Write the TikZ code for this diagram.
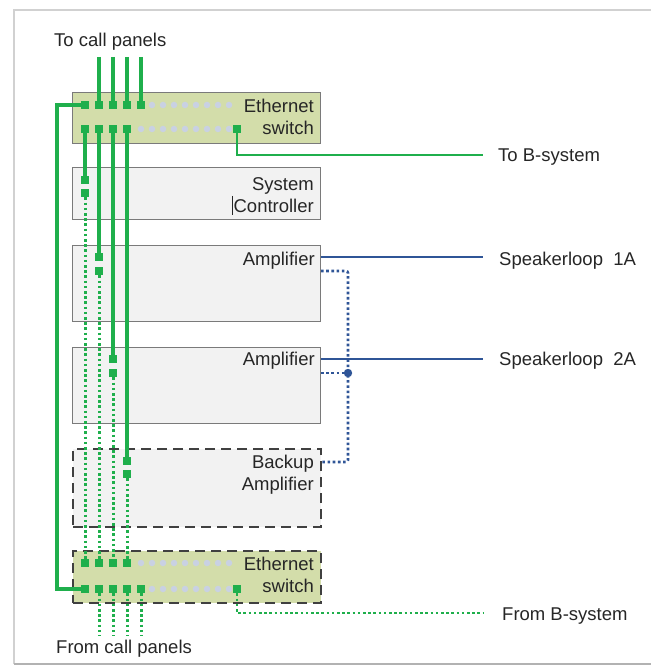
\documentclass[tikz,border=0pt]{standalone}
\usepackage{fontspec}
\setmainfont{Liberation Sans}
\definecolor{swfill}{HTML}{D3DDAA}
\definecolor{boxfill}{HTML}{F2F2F2}
\definecolor{boxline}{HTML}{7A7A7A}
\definecolor{pgreen}{HTML}{1FAF4C}
\definecolor{pblue}{HTML}{2F5597}
\definecolor{txt}{HTML}{262626}
\definecolor{gdot}{HTML}{C9D1E3}
\begin{document}
\begin{tikzpicture}[x=1pt,y=-1pt,
  box/.style={draw=boxline, line width=1.4pt, anchor=north west, inner sep=0pt, minimum width=248pt},
  dbox/.style={draw=black!75, line width=2pt, dash pattern=on 10pt off 6pt, anchor=north west, inner sep=0pt, minimum width=248pt},
  lbl/.style={font=\fontsize{18.5}{21}\selectfont, text=txt, inner sep=0pt, anchor=base east},
  olbl/.style={font=\fontsize{18.5}{21}\selectfont, text=txt, inner sep=0pt, anchor=base west},
  port/.style={fill=pgreen, minimum size=8.5pt, inner sep=0pt},
  gline/.style={draw=pgreen, line width=3.3pt},
  gdotl/.style={draw=pgreen, line width=3pt, dash pattern=on 2.6pt off 2.6pt},
  bline/.style={draw=pblue, line width=2.8pt},
  bdotl/.style={draw=pblue, line width=2.6pt, dash pattern=on 2.6pt off 2.6pt, rounded corners=2pt},
  gd/.style={fill=gdot, circle, minimum size=6.5pt, inner sep=0pt}]
\useasboundingbox (0,0) rectangle (651,668);
% outer frame
\draw[black!18, line width=2pt] (14,664) -- (14,10) -- (651,10);
\draw[black!30, line width=2.5pt] (14,664) -- (651,664);

% boxes
\node[box, fill=swfill, minimum height=51pt] (sw1) at (72,92) {};
\node[box, fill=boxfill, minimum height=52pt] (sc) at (72,167) {};
\node[box, fill=boxfill, minimum height=76pt] (amp1) at (72,245) {};
\node[box, fill=boxfill, minimum height=76pt] (amp2) at (72,347) {};
\node[dbox, fill=boxfill, minimum height=78pt] (bak) at (72,448) {};
\node[dbox, fill=swfill, minimum height=52pt] (sw2) at (72,550) {};

% labels in boxes
\node[lbl] (l1) at (314,113) {Ethernet};
\node[lbl] (l2) at (314,135) {switch};
\node[lbl] (l3) at (314,190) {System};
\node[lbl] (l4) at (314,212) {Controller};
\draw[txt, line width=1pt] (232,196) -- (232,215);
\node[lbl] (l5) at (315,265) {Amplifier};
\node[lbl] (l6) at (315,365) {Amplifier};
\node[lbl] (l7) at (314,468) {Backup};
\node[lbl] (l8) at (314,490) {Amplifier};
\node[lbl] (l9) at (314,570) {Ethernet};
\node[lbl] (l10) at (314,592) {switch};

% outside labels
\node[olbl] (tcp) at (54,47) {To call panels};
\node[olbl] (fcp) at (56,653) {From call panels};
\node[olbl] (tb) at (498,162) {To B-system};
\node[olbl] (s1) at (499,265) {Speakerloop\ \ 1A};
\node[olbl] (s2) at (499,365) {Speakerloop\ \ 2A};
\node[olbl] (fb) at (502,620) {From B-system};

% gray dots (unused ports)
\foreach \x in {152,163,...,229} \node[gd] at (\x,105) {};
\foreach \x in {141,152,...,229} \node[gd] at (\x,129) {};
\foreach \x in {141,152,...,229} \node[gd] at (\x,563) {};
\foreach \x in {152,163,...,229} \node[gd] at (\x,589) {};

% top switch ports
\node[port] (ta0) at (85,105) {};
\node[port] (ta1) at (99,105) {};
\node[port] (ta2) at (113,105) {};
\node[port] (ta3) at (127,105) {};
\node[port] (ta4) at (141,105) {};
\node[port] (tb0) at (85,129) {};
\node[port] (tb1) at (99,129) {};
\node[port] (tb2) at (113,129) {};
\node[port] (tb3) at (127,129) {};
\node[port] (tbB) at (237,129) {};
% device ports
\node[port] (sc1) at (85,180) {};
\node[port] (sc2) at (85,193) {};
\node[port] (a11) at (99,257) {};
\node[port] (a12) at (99,271) {};
\node[port] (a21) at (113,359) {};
\node[port] (a22) at (113,373) {};
\node[port] (bk1) at (127,461) {};
\node[port] (bk2) at (127,474) {};
% bottom switch ports
\node[port] (ba0) at (85,563) {};
\node[port] (ba1) at (99,563) {};
\node[port] (ba2) at (113,563) {};
\node[port] (ba3) at (127,563) {};
\node[port] (bb0) at (85,589) {};
\node[port] (bb1) at (99,589) {};
\node[port] (bb2) at (113,589) {};
\node[port] (bb3) at (127,589) {};
\node[port] (bb4) at (141,589) {};
\node[port] (bbB) at (237,589) {};

% call panel line ends
\coordinate (c1) at (99,57);
\coordinate (c2) at (113,57);
\coordinate (c3) at (127,57);
\coordinate (c4) at (141,57);
\coordinate (f1) at (99,636);
\coordinate (f2) at (113,636);
\coordinate (f3) at (127,636);
\coordinate (f4) at (141,636);
\draw[gline] (c1) -- (ta1);
\draw[gline] (c2) -- (ta2);
\draw[gline] (c3) -- (ta3);
\draw[gline] (c4) -- (ta4);
\draw[gdotl] (bb1) -- (f1);
\draw[gdotl] (bb2) -- (f2);
\draw[gdotl] (bb3) -- (f3);
\draw[gdotl] (bb4) -- (f4);

% loop between switches
\coordinate (lt) at (57,105);
\coordinate (lb) at (57,589);
\draw[gline] (ta0.west) -- (lt) -- (lb) -- (bb0.west);

% top switch to devices
\draw[gline] (tb0) -- (sc1);
\draw[gline] (tb1) -- (a11);
\draw[gline] (tb2) -- (a21);
\draw[gline] (tb3) -- (bk1);
% devices to bottom switch
\draw[gdotl] (sc2) -- (ba0);
\draw[gdotl] (a12) -- (ba1);
\draw[gdotl] (a22) -- (ba2);
\draw[gdotl] (bk2) -- (ba3);

% B-system
\coordinate (tbc) at (237,155);
\coordinate (tbe) at (483,155);
\draw[gline, line width=2.6pt] (tbB) -- (tbc) -- (tbe);
\coordinate (fbc) at (237,613);
\coordinate (fbe) at (483,613);
\draw[gdotl, line width=2.4pt] (bbB) -- (fbc) -- (fbe);

% speaker loops
\coordinate (a1o) at (321,257);
\coordinate (a1e) at (483,257);
\coordinate (a2o) at (321,359);
\coordinate (a2e) at (483,359);
\draw[bline] (a1o) -- (a1e);
\draw[bline] (a2o) -- (a2e);
\coordinate (a1d) at (321,271);
\coordinate (v1) at (348,271);
\coordinate (v2) at (348,462);
\coordinate (bkd) at (322,462);
\coordinate (a2d) at (321,373);
\coordinate (jn) at (348,373);
\draw[bdotl] (a1d) -- (v1) -- (v2) -- (bkd);
\draw[bdotl] (a2d) -- (jn);
\fill[pblue] (jn) circle (4.2pt);
\end{tikzpicture}
\end{document}
